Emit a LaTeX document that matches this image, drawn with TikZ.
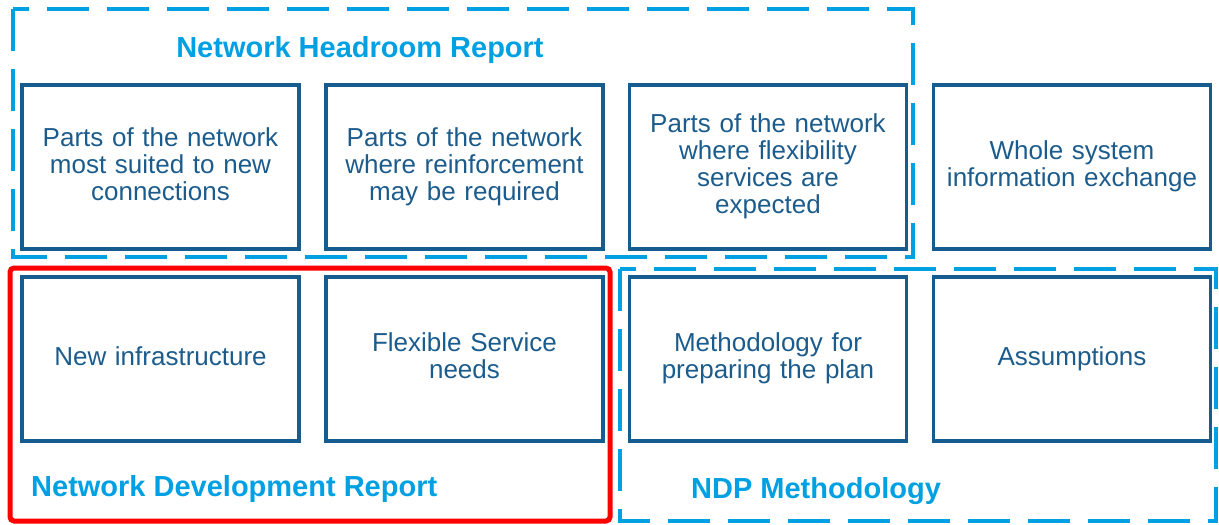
\documentclass[tikz,border=0pt]{standalone}
\usepackage{fontspec}
\setmainfont{Liberation Sans}
\definecolor{boxblue}{RGB}{22,92,142}
\definecolor{txtblue}{RGB}{28,92,140}
\definecolor{lightblue}{RGB}{0,160,226}
\definecolor{redline}{RGB}{255,0,0}
\begin{document}
\begin{tikzpicture}[x=1pt,y=-1pt,
  item/.style={draw=boxblue, line width=3.5pt, minimum width=277pt, minimum height=164pt,
    inner sep=0pt, text width=265pt, align=center, text=txtblue,
    font=\fontsize{26}{27}\selectfont},
  frame/.style={draw=lightblue, line width=4pt, dash pattern=on 42pt off 18pt},
  title/.style={text=lightblue, font=\fontsize{29}{32}\selectfont\bfseries, inner sep=0pt}]
\useasboundingbox (0,0) rectangle (1219,525);
% frames
\draw[frame] (13,9) rectangle (913,257);
\draw[frame] (620,269) rectangle (1216,521);
\draw[draw=redline, line width=5pt, rounded corners=4pt] (10,268) rectangle (610,521);
% row 1
\node[item] (b1) at (160.5,167) {Parts of the network\\most suited to new\\connections\rule[-6pt]{0pt}{0pt}};
\node[item] (b2) at (464.5,167) {Parts of the network\\where reinforcement\\may be required\rule[-6pt]{0pt}{0pt}};
\node[item] (b3) at (768,167) {Parts of the network\\where flexibility\\services are\\expected\rule[-6pt]{0pt}{0pt}};
\node[item] (b4) at (1072,167) {Whole system\\information exchange\rule[-6pt]{0pt}{0pt}};
% row 2
\node[item] (c1) at (160.5,359) {New infrastructure\rule[-6pt]{0pt}{0pt}};
\node[item] (c2) at (464.5,359) {Flexible Service\\needs\rule[-6pt]{0pt}{0pt}};
\node[item] (c3) at (768,359) {Methodology for\\preparing the plan\rule[-6pt]{0pt}{0pt}};
\node[item] (c4) at (1072,359) {Assumptions\rule[-6pt]{0pt}{0pt}};
% titles
\node[title] (t1) at (360,50) {Network Headroom Report};
\node[title, anchor=west] (t2) at (31,489) {Network Development Report};
\node[title, anchor=west] (t3) at (691,491) {NDP Methodology};
\end{tikzpicture}
\end{document}
